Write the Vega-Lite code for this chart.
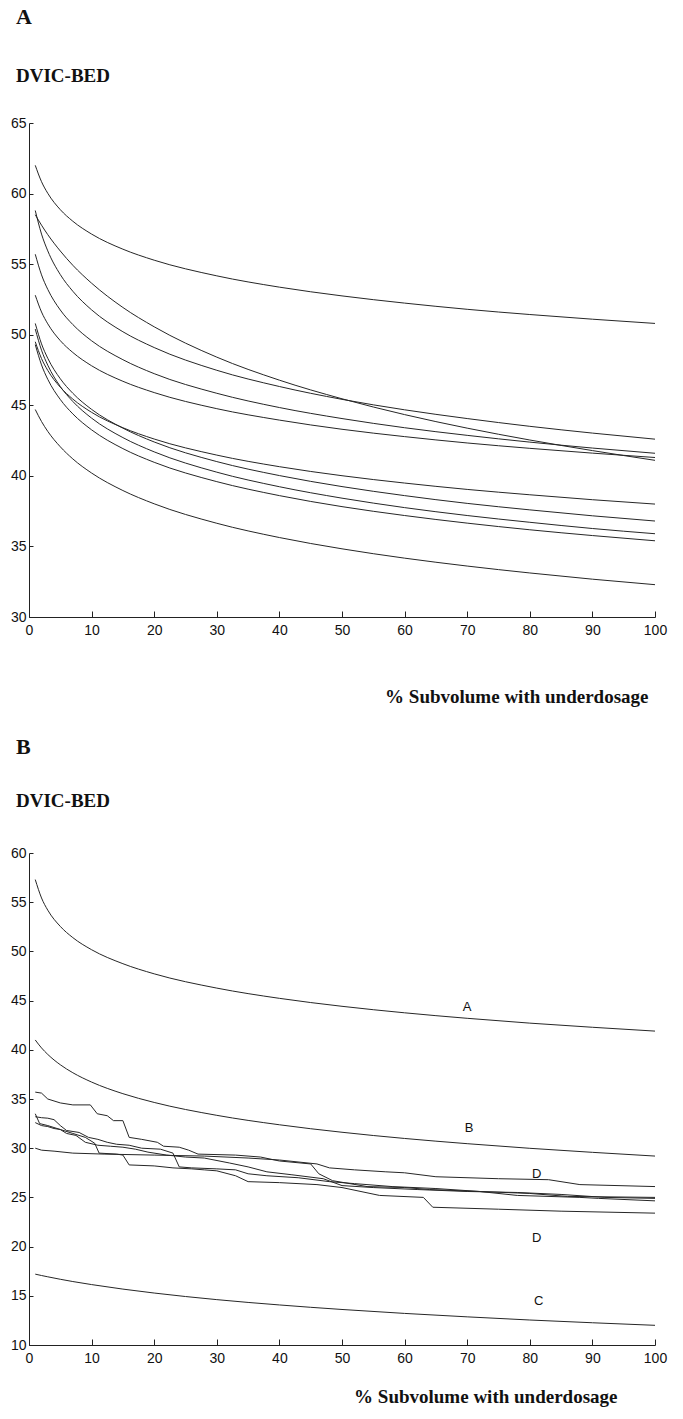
{
  "$schema": "https://vega.github.io/schema/vega-lite/v6.json",
  "autosize": {"type": "pad"},
  "padding": {"left": 10, "top": 6, "right": 17, "bottom": 11},
  "background": "white",
  "spacing": 236,
  "bounds": "flush",
  "config": {
    "view": {"stroke": null},
    "axis": {
      "domainColor": "#222222",
      "tickColor": "#222222",
      "labelColor": "#111111",
      "labelFont": "Liberation Sans",
      "labelFontSize": 14,
      "grid": false,
      "domainWidth": 1,
      "tickWidth": 1,
      "titleColor": "#111111"
    },
    "line": {"stroke": "#262626", "strokeWidth": 1}
  },
  "datasets": {
    "curvesA": [
      {"s":"c1","x":1,"v":62},{"s":"c1","x":2,"v":60.84},{"s":"c1","x":3,"v":60.02},{"s":"c1","x":5,"v":58.86},{"s":"c1","x":7,"v":58.04},{"s":"c1","x":10,"v":57.13},{"s":"c1","x":15,"v":56.06},{"s":"c1","x":20,"v":55.28},{"s":"c1","x":30,"v":54.17},{"s":"c1","x":40,"v":53.37},{"s":"c1","x":50,"v":52.75},{"s":"c1","x":60,"v":52.24},{"s":"c1","x":70,"v":51.8},{"s":"c1","x":80,"v":51.43},{"s":"c1","x":90,"v":51.1},{"s":"c1","x":100,"v":50.8},
      {"s":"c2","x":1,"v":58.5},{"s":"c2","x":2,"v":57.76},{"s":"c2","x":3,"v":57.09},{"s":"c2","x":5,"v":55.93},{"s":"c2","x":7,"v":54.92},{"s":"c2","x":10,"v":53.65},{"s":"c2","x":15,"v":51.93},{"s":"c2","x":20,"v":50.56},{"s":"c2","x":30,"v":48.41},{"s":"c2","x":40,"v":46.78},{"s":"c2","x":50,"v":45.46},{"s":"c2","x":60,"v":44.34},{"s":"c2","x":70,"v":43.38},{"s":"c2","x":80,"v":42.54},{"s":"c2","x":90,"v":41.79},{"s":"c2","x":100,"v":41.1},
      {"s":"c3","x":1,"v":58.8},{"s":"c3","x":2,"v":57.13},{"s":"c3","x":3,"v":55.94},{"s":"c3","x":5,"v":54.26},{"s":"c3","x":7,"v":53.08},{"s":"c3","x":10,"v":51.76},{"s":"c3","x":15,"v":50.21},{"s":"c3","x":20,"v":49.09},{"s":"c3","x":30,"v":47.48},{"s":"c3","x":40,"v":46.33},{"s":"c3","x":50,"v":45.42},{"s":"c3","x":60,"v":44.68},{"s":"c3","x":70,"v":44.06},{"s":"c3","x":80,"v":43.51},{"s":"c3","x":90,"v":43.03},{"s":"c3","x":100,"v":42.6},
      {"s":"c4","x":1,"v":55.7},{"s":"c4","x":2,"v":54.24},{"s":"c4","x":3,"v":53.21},{"s":"c4","x":5,"v":51.75},{"s":"c4","x":7,"v":50.72},{"s":"c4","x":10,"v":49.57},{"s":"c4","x":15,"v":48.23},{"s":"c4","x":20,"v":47.24},{"s":"c4","x":30,"v":45.85},{"s":"c4","x":40,"v":44.84},{"s":"c4","x":50,"v":44.06},{"s":"c4","x":60,"v":43.41},{"s":"c4","x":70,"v":42.87},{"s":"c4","x":80,"v":42.39},{"s":"c4","x":90,"v":41.97},{"s":"c4","x":100,"v":41.6},
      {"s":"c5","x":1,"v":52.8},{"s":"c5","x":2,"v":51.61},{"s":"c5","x":3,"v":50.77},{"s":"c5","x":5,"v":49.58},{"s":"c5","x":7,"v":48.74},{"s":"c5","x":10,"v":47.8},{"s":"c5","x":15,"v":46.7},{"s":"c5","x":20,"v":45.9},{"s":"c5","x":30,"v":44.76},{"s":"c5","x":40,"v":43.95},{"s":"c5","x":50,"v":43.3},{"s":"c5","x":60,"v":42.78},{"s":"c5","x":70,"v":42.33},{"s":"c5","x":80,"v":41.95},{"s":"c5","x":90,"v":41.61},{"s":"c5","x":100,"v":41.3},
      {"s":"c6","x":1,"v":49.5},{"s":"c6","x":2,"v":48.31},{"s":"c6","x":3,"v":47.47},{"s":"c6","x":5,"v":46.28},{"s":"c6","x":7,"v":45.44},{"s":"c6","x":10,"v":44.5},{"s":"c6","x":15,"v":43.41},{"s":"c6","x":20,"v":42.61},{"s":"c6","x":30,"v":41.47},{"s":"c6","x":40,"v":40.65},{"s":"c6","x":50,"v":40.01},{"s":"c6","x":60,"v":39.49},{"s":"c6","x":70,"v":39.04},{"s":"c6","x":80,"v":38.66},{"s":"c6","x":90,"v":38.31},{"s":"c6","x":100,"v":38},
      {"s":"c7","x":1,"v":50.8},{"s":"c7","x":2,"v":49.35},{"s":"c7","x":3,"v":48.33},{"s":"c7","x":5,"v":46.88},{"s":"c7","x":7,"v":45.85},{"s":"c7","x":10,"v":44.71},{"s":"c7","x":15,"v":43.38},{"s":"c7","x":20,"v":42.4},{"s":"c7","x":30,"v":41.01},{"s":"c7","x":40,"v":40.02},{"s":"c7","x":50,"v":39.24},{"s":"c7","x":60,"v":38.6},{"s":"c7","x":70,"v":38.05},{"s":"c7","x":80,"v":37.59},{"s":"c7","x":90,"v":37.17},{"s":"c7","x":100,"v":36.8},
      {"s":"c8","x":1,"v":50.4},{"s":"c8","x":2,"v":48.9},{"s":"c8","x":3,"v":47.84},{"s":"c8","x":5,"v":46.33},{"s":"c8","x":7,"v":45.27},{"s":"c8","x":10,"v":44.09},{"s":"c8","x":15,"v":42.71},{"s":"c8","x":20,"v":41.7},{"s":"c8","x":30,"v":40.26},{"s":"c8","x":40,"v":39.23},{"s":"c8","x":50,"v":38.42},{"s":"c8","x":60,"v":37.75},{"s":"c8","x":70,"v":37.19},{"s":"c8","x":80,"v":36.71},{"s":"c8","x":90,"v":36.27},{"s":"c8","x":100,"v":35.9},
      {"s":"c9","x":1,"v":49.3},{"s":"c9","x":2,"v":47.86},{"s":"c9","x":3,"v":46.84},{"s":"c9","x":5,"v":45.41},{"s":"c9","x":7,"v":44.39},{"s":"c9","x":10,"v":43.26},{"s":"c9","x":15,"v":41.93},{"s":"c9","x":20,"v":40.96},{"s":"c9","x":30,"v":39.59},{"s":"c9","x":40,"v":38.6},{"s":"c9","x":50,"v":37.82},{"s":"c9","x":60,"v":37.19},{"s":"c9","x":70,"v":36.65},{"s":"c9","x":80,"v":36.18},{"s":"c9","x":90,"v":35.77},{"s":"c9","x":100,"v":35.4},
      {"s":"c10","x":1,"v":44.7},{"s":"c10","x":2,"v":43.85},{"s":"c10","x":3,"v":43.15},{"s":"c10","x":5,"v":42.06},{"s":"c10","x":7,"v":41.2},{"s":"c10","x":10,"v":40.2},{"s":"c10","x":15,"v":38.96},{"s":"c10","x":20,"v":38.02},{"s":"c10","x":30,"v":36.64},{"s":"c10","x":40,"v":35.63},{"s":"c10","x":50,"v":34.83},{"s":"c10","x":60,"v":34.17},{"s":"c10","x":70,"v":33.61},{"s":"c10","x":80,"v":33.12},{"s":"c10","x":90,"v":32.68},{"s":"c10","x":100,"v":32.29}
    ],
    "smoothB": [
      {"s":"A","x":1,"v":57.3},{"s":"A","x":2,"v":55.43},{"s":"A","x":3,"v":54.19},{"s":"A","x":5,"v":52.54},{"s":"A","x":7,"v":51.4},{"s":"A","x":10,"v":50.17},{"s":"A","x":15,"v":48.75},{"s":"A","x":20,"v":47.72},{"s":"A","x":30,"v":46.27},{"s":"A","x":40,"v":45.23},{"s":"A","x":50,"v":44.42},{"s":"A","x":60,"v":43.76},{"s":"A","x":70,"v":43.2},{"s":"A","x":80,"v":42.71},{"s":"A","x":90,"v":42.29},{"s":"A","x":100,"v":41.9},
      {"s":"B","x":1,"v":41},{"s":"B","x":2,"v":40.19},{"s":"B","x":3,"v":39.53},{"s":"B","x":5,"v":38.48},{"s":"B","x":7,"v":37.67},{"s":"B","x":10,"v":36.72},{"s":"B","x":15,"v":35.54},{"s":"B","x":20,"v":34.65},{"s":"B","x":30,"v":33.34},{"s":"B","x":40,"v":32.38},{"s":"B","x":50,"v":31.62},{"s":"B","x":60,"v":30.99},{"s":"B","x":70,"v":30.46},{"s":"B","x":80,"v":29.99},{"s":"B","x":90,"v":29.58},{"s":"B","x":100,"v":29.2},
      {"s":"C","x":1,"v":17.2},{"s":"C","x":2,"v":17.06},{"s":"C","x":3,"v":16.93},{"s":"C","x":5,"v":16.68},{"s":"C","x":7,"v":16.45},{"s":"C","x":10,"v":16.14},{"s":"C","x":15,"v":15.68},{"s":"C","x":20,"v":15.28},{"s":"C","x":30,"v":14.61},{"s":"C","x":40,"v":14.07},{"s":"C","x":50,"v":13.61},{"s":"C","x":60,"v":13.21},{"s":"C","x":70,"v":12.86},{"s":"C","x":80,"v":12.54},{"s":"C","x":90,"v":12.26},{"s":"C","x":100,"v":12}
    ],
    "stepB": [
      {"s":"D1","x":1,"v":35.7},{"s":"D1","x":2,"v":35.6},{"s":"D1","x":3,"v":35},{"s":"D1","x":5,"v":34.6},{"s":"D1","x":7,"v":34.4},{"s":"D1","x":9.8,"v":34.4},{"s":"D1","x":10.9,"v":33.5},{"s":"D1","x":12.5,"v":33.3},{"s":"D1","x":13.5,"v":32.8},{"s":"D1","x":15,"v":32.8},{"s":"D1","x":16,"v":31.1},{"s":"D1","x":18,"v":30.9},{"s":"D1","x":20.5,"v":30.6},{"s":"D1","x":21.5,"v":30.2},{"s":"D1","x":24,"v":30.1},{"s":"D1","x":25.5,"v":29.8},{"s":"D1","x":27,"v":29.4},{"s":"D1","x":33,"v":29.3},{"s":"D1","x":37,"v":29.1},{"s":"D1","x":40,"v":28.7},{"s":"D1","x":45,"v":28.4},{"s":"D1","x":46.3,"v":27.4},{"s":"D1","x":48.5,"v":26.7},{"s":"D1","x":54,"v":26.1},{"s":"D1","x":60,"v":26},{"s":"D1","x":64,"v":25.8},{"s":"D1","x":72,"v":25.6},{"s":"D1","x":78,"v":25.2},{"s":"D1","x":88,"v":25},{"s":"D1","x":91,"v":24.9},{"s":"D1","x":100,"v":24.65},
      {"s":"D2","x":1,"v":33.5},{"s":"D2","x":1.7,"v":32.5},{"s":"D2","x":3,"v":32.3},{"s":"D2","x":5,"v":31.9},{"s":"D2","x":7,"v":31.5},{"s":"D2","x":9,"v":31.1},{"s":"D2","x":10.5,"v":30.5},{"s":"D2","x":11.2,"v":29.5},{"s":"D2","x":14,"v":29.4},{"s":"D2","x":15,"v":29.3},{"s":"D2","x":16,"v":28.3},{"s":"D2","x":20,"v":28.2},{"s":"D2","x":23,"v":28},{"s":"D2","x":26,"v":27.9},{"s":"D2","x":28,"v":27.8},{"s":"D2","x":30,"v":27.7},{"s":"D2","x":33,"v":27.2},{"s":"D2","x":35,"v":26.6},{"s":"D2","x":40,"v":26.5},{"s":"D2","x":46,"v":26.3},{"s":"D2","x":50,"v":26},{"s":"D2","x":56,"v":25.2},{"s":"D2","x":63,"v":25},{"s":"D2","x":64.5,"v":24},{"s":"D2","x":75,"v":23.8},{"s":"D2","x":85,"v":23.6},{"s":"D2","x":100,"v":23.4},
      {"s":"D3","x":1,"v":33.2},{"s":"D3","x":2,"v":33.1},{"s":"D3","x":3,"v":33.05},{"s":"D3","x":4,"v":32.9},{"s":"D3","x":5,"v":32.3},{"s":"D3","x":6,"v":31.8},{"s":"D3","x":8,"v":31.6},{"s":"D3","x":9.5,"v":31.1},{"s":"D3","x":11,"v":30.9},{"s":"D3","x":12.5,"v":30.6},{"s":"D3","x":14,"v":30.4},{"s":"D3","x":16,"v":30.3},{"s":"D3","x":18,"v":30},{"s":"D3","x":21,"v":29.9},{"s":"D3","x":23,"v":29.5},{"s":"D3","x":24,"v":28.1},{"s":"D3","x":26,"v":28},{"s":"D3","x":30,"v":27.9},{"s":"D3","x":33,"v":27.8},{"s":"D3","x":35,"v":27.4},{"s":"D3","x":38,"v":27.2},{"s":"D3","x":43,"v":27},{"s":"D3","x":48,"v":26.6},{"s":"D3","x":52,"v":26.4},{"s":"D3","x":58,"v":26.1},{"s":"D3","x":65,"v":25.9},{"s":"D3","x":72,"v":25.6},{"s":"D3","x":80,"v":25.4},{"s":"D3","x":86,"v":25.1},{"s":"D3","x":100,"v":25},
      {"s":"D4","x":1,"v":32.6},{"s":"D4","x":2,"v":32.3},{"s":"D4","x":3,"v":32.2},{"s":"D4","x":4,"v":32},{"s":"D4","x":5,"v":31.9},{"s":"D4","x":6,"v":31.5},{"s":"D4","x":7.5,"v":31.3},{"s":"D4","x":9,"v":30.6},{"s":"D4","x":11,"v":30.3},{"s":"D4","x":13,"v":30.2},{"s":"D4","x":15,"v":30.1},{"s":"D4","x":17,"v":29.9},{"s":"D4","x":19,"v":29.6},{"s":"D4","x":22,"v":29.3},{"s":"D4","x":25,"v":29.1},{"s":"D4","x":28,"v":29},{"s":"D4","x":32,"v":28.5},{"s":"D4","x":35,"v":28.1},{"s":"D4","x":38,"v":27.6},{"s":"D4","x":42,"v":27.3},{"s":"D4","x":47,"v":26.9},{"s":"D4","x":50,"v":26.2},{"s":"D4","x":55,"v":26},{"s":"D4","x":62,"v":25.8},{"s":"D4","x":70,"v":25.6},{"s":"D4","x":78,"v":25.5},{"s":"D4","x":85,"v":25.3},{"s":"D4","x":92,"v":25},{"s":"D4","x":100,"v":24.9},
      {"s":"D5","x":1,"v":30},{"s":"D5","x":2,"v":29.8},{"s":"D5","x":4,"v":29.7},{"s":"D5","x":7,"v":29.5},{"s":"D5","x":12,"v":29.4},{"s":"D5","x":20,"v":29.3},{"s":"D5","x":28,"v":29.2},{"s":"D5","x":35,"v":29},{"s":"D5","x":40,"v":28.8},{"s":"D5","x":46,"v":28.4},{"s":"D5","x":48,"v":28},{"s":"D5","x":52,"v":27.8},{"s":"D5","x":57,"v":27.6},{"s":"D5","x":60,"v":27.5},{"s":"D5","x":65,"v":27.1},{"s":"D5","x":75,"v":26.9},{"s":"D5","x":83,"v":26.8},{"s":"D5","x":88,"v":26.3},{"s":"D5","x":100,"v":26.1}
    ],
    "labelsB": [
      {"x":70,"v":44.4,"t":"A"},
      {"x":70.3,"v":32.1,"t":"B"},
      {"x":81.1,"v":27.4,"t":"D"},
      {"x":81.1,"v":20.9,"t":"D"},
      {"x":81.4,"v":14.5,"t":"C"}
    ]
  },
  "vconcat": [
    {
      "width": 626,
      "height": 494,
      "title": {
        "text": "A",
        "subtitle": "DVIC-BED",
        "anchor": "start",
        "frame": "group",
        "font": "Liberation Serif",
        "fontSize": 22,
        "fontWeight": "bold",
        "color": "#111111",
        "subtitleFont": "Liberation Serif",
        "subtitleFontSize": 19,
        "subtitleFontWeight": "bold",
        "subtitleColor": "#111111",
        "subtitlePadding": 38,
        "offset": 29,
        "dx": -13
      },
      "data": {"name": "curvesA"},
      "mark": {"type": "line", "interpolate": "monotone"},
      "encoding": {
        "x": {
          "field": "x",
          "type": "quantitative",
          "scale": {"domain": [0, 100], "nice": false},
          "axis": {
            "values": [0, 10, 20, 30, 40, 50, 60, 70, 80, 90, 100],
            "tickSize": -6,
            "labelPadding": 12,
            "labelFlush": false,
            "title": "% Subvolume with underdosage",
            "titleFont": "Liberation Serif",
            "titleFontSize": 19,
            "titleFontWeight": "bold",
            "titleX": 619,
            "titleY": 79,
            "titleAlign": "right",
            "titleBaseline": "middle"
          }
        },
        "y": {
          "field": "v",
          "type": "quantitative",
          "scale": {"domain": [30, 65], "nice": false, "zero": false},
          "axis": {
            "values": [30, 35, 40, 45, 50, 55, 60, 65],
            "tickSize": -4,
            "labelPadding": 7,
            "title": null
          }
        },
        "detail": {"field": "s"}
      }
    },
    {
      "width": 626,
      "height": 492,
      "title": {
        "text": "B",
        "subtitle": "DVIC-BED",
        "anchor": "start",
        "frame": "group",
        "font": "Liberation Serif",
        "fontSize": 22,
        "fontWeight": "bold",
        "color": "#111111",
        "subtitleFont": "Liberation Serif",
        "subtitleFontSize": 19,
        "subtitleFontWeight": "bold",
        "subtitleColor": "#111111",
        "subtitlePadding": 33,
        "offset": 34,
        "dx": -13
      },
      "layer": [
        {
          "data": {"name": "smoothB"},
          "mark": {"type": "line", "interpolate": "monotone"},
          "encoding": {
            "x": {"field": "x", "type": "quantitative"},
            "y": {"field": "v", "type": "quantitative"},
            "detail": {"field": "s"}
          }
        },
        {
          "data": {"name": "stepB"},
          "mark": {"type": "line", "interpolate": "linear"},
          "encoding": {
            "x": {"field": "x", "type": "quantitative"},
            "y": {"field": "v", "type": "quantitative"},
            "detail": {"field": "s"}
          }
        },
        {
          "data": {"name": "labelsB"},
          "mark": {"type": "text", "font": "Liberation Sans", "fontSize": 13, "color": "#111111", "align": "center", "baseline": "middle"},
          "encoding": {
            "x": {"field": "x", "type": "quantitative"},
            "y": {"field": "v", "type": "quantitative"},
            "text": {"field": "t"}
          }
        }
      ],
      "encoding": {
        "x": {
          "field": "x",
          "type": "quantitative",
          "scale": {"domain": [0, 100], "nice": false},
          "axis": {
            "values": [0, 10, 20, 30, 40, 50, 60, 70, 80, 90, 100],
            "tickSize": -6,
            "labelPadding": 12,
            "labelFlush": false,
            "title": "% Subvolume with underdosage",
            "titleFont": "Liberation Serif",
            "titleFontSize": 19,
            "titleFontWeight": "bold",
            "titleX": 588,
            "titleY": 51,
            "titleAlign": "right",
            "titleBaseline": "middle"
          }
        },
        "y": {
          "field": "v",
          "type": "quantitative",
          "scale": {"domain": [10, 60], "nice": false, "zero": false},
          "axis": {
            "values": [10, 15, 20, 25, 30, 35, 40, 45, 50, 55, 60],
            "tickSize": -4,
            "labelPadding": 7,
            "title": null
          }
        }
      }
    }
  ]
}
